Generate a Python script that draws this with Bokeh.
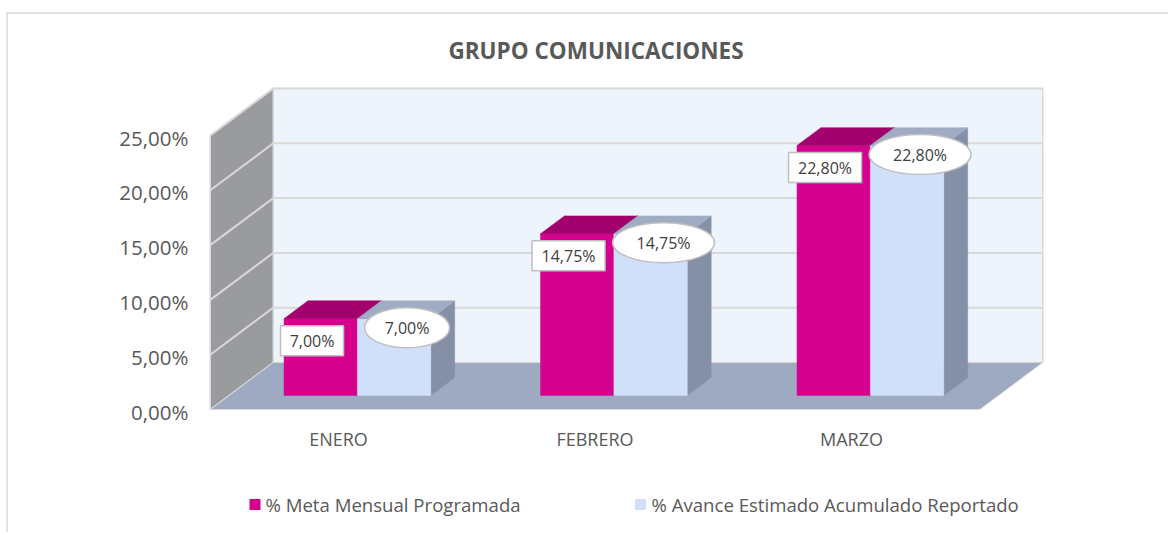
from bokeh.plotting import figure
from bokeh.models import Range1d, ColumnDataSource
from bokeh.core.properties import value
from bokeh.embed import file_html
from bokeh.resources import INLINE

# ---------------- data ----------------
categories = ["ENERO", "FEBRERO", "MARZO"]
meta = [7.00, 14.75, 22.80]
avance = [7.00, 14.75, 22.80]
series_names = ["% Meta Mensual Programada", "% Avance Estimado Acumulado Reportado"]
y_ticks = [0, 5, 10, 15, 20, 25]
y_tick_labels = ["0,00%", "5,00%", "10,00%", "15,00%", "20,00%", "25,00%"]
title_text = "GRUPO COMUNICACIONES"

# ---------------- styling / geometry ----------------
FONT = value("Open Sans")
TXT = "#595959"
C_META, C_META_TOP = "#D6008F", "#A2006C"
C_AV, C_AV_TOP, C_AV_SIDE = "#D1E0FA", "#A0ACC4", "#8590A7"
C_FLOOR, C_BACK, C_LEFT = "#9EAAC2", "#EEF4FB", "#999B9F"
C_GRID = "#D9D9D9"

W_PX, H_PX = 1168, 532
ORG = 0.0                         # canvas origin on the page
PX_X = 256.5        # pixels per category unit
PX_Y = 10.96        # pixels per percent
X0_PAGE, Y0_PAGE = 338.0, 409.0   # page position of (category 0, 0 %)

def dx(px):
    return px / PX_X

def dy(px):
    return px / PX_Y

def page_x(px):
    return (px - X0_PAGE) / PX_X

def page_y(py):
    return (Y0_PAGE - py) / PX_Y

DX, DY = dx(63), dy(47)          # depth of the 3D box
F0, F1 = 0.30, 0.68               # bar depth (fractions)
BW = 0.286                        # bar width, category units

p = figure(width=W_PX, height=H_PX,
           x_range=Range1d(page_x(ORG), page_x(ORG + W_PX)),
           y_range=Range1d(page_y(ORG + H_PX), page_y(ORG)),
           x_axis_location=None, y_axis_location=None,
           toolbar_location=None, output_backend="svg", min_border=0)
p.outline_line_color = None
p.background_fill_color = "white"
p.border_fill_color = "white"
p.xgrid.visible = False
p.ygrid.visible = False
p.grid.visible = False

# chart border (top / left)
p.line([page_x(6.5), page_x(6.5), page_x(1172)], [page_y(540), page_y(12.5), page_y(12.5)],
       line_color=C_GRID, line_width=1.5)

x0, x1 = -0.5, len(categories) - 0.5
ymax = y_ticks[-1]

# back wall
p.patch([x0 + DX, x1 + DX, x1 + DX, x0 + DX], [DY, DY, ymax + DY, ymax + DY],
        fill_color=C_BACK, line_color=C_GRID, line_width=1.5)
grid_v = [t for t in y_ticks if t > 0]
p.multi_line([[x0 + DX, x1 + DX] for _ in grid_v], [[t + DY, t + DY] for t in grid_v],
             line_color=C_GRID, line_width=2)
# left wall
p.patch([x0, x0 + DX, x0 + DX, x0], [0, DY, ymax + DY, ymax],
        fill_color=C_LEFT, line_color=C_GRID, line_width=1.5)
p.multi_line([[x0, x0 + DX] for _ in grid_v], [[t, t + DY] for t in grid_v],
             line_color=C_GRID, line_width=2)
# floor
p.patch([x0, x1, x1 + DX, x0 + DX], [0, 0, DY, DY],
        fill_color=C_FLOOR, line_color=C_GRID, line_width=1)

# bars
bdx, bdy = (F1 - F0) * DX, (F1 - F0) * DY
yb = F0 * DY
for s, (vals, cf, ct, cs) in enumerate([(meta, C_META, C_META_TOP, C_META_TOP),
                                         (avance, C_AV, C_AV_TOP, C_AV_SIDE)]):
    fx, fy, tx, ty, sx, sy = [], [], [], [], [], []
    for i, v in enumerate(vals):
        xl = i - BW + s * BW + F0 * DX
        xr = xl + BW
        yt = yb + v
        fx.append([xl, xr, xr, xl]); fy.append([yb, yb, yt, yt])
        tx.append([xl, xr, xr + bdx, xl + bdx]); ty.append([yt, yt, yt + bdy, yt + bdy])
        sx.append([xr, xr + bdx, xr + bdx, xr]); sy.append([yb, yb + bdy, yt + bdy, yt])
    p.patches(sx, sy, fill_color=cs, line_color=cs, line_width=0.5)
    p.patches(fx, fy, fill_color=cf, line_color=cf, line_width=0.5)
    p.patches(tx, ty, fill_color=ct, line_color=ct, line_width=0.5)

def fmt(v):
    return f"{v:.2f}".replace(".", ",") + "%"

# data labels: meta (boxes)
mx = [i - BW + F0 * DX + dx(28) for i in range(len(meta))]
my = [yb + v - dy(22) for v in meta]
mt = [fmt(v) for v in meta]
mw = [10 * len(t) + 13 for t in mt]
src_m = ColumnDataSource(dict(x=mx, y=my, t=mt, w=mw))
p.rect("x", "y", width="w", height=30, width_units="screen", height_units="screen",
       fill_color="white", line_color="#BFBFBF", line_width=1.5, source=src_m)
p.text("x", "y", text="t", text_align="center", text_baseline="middle",
       text_font=FONT, text_font_size="16px", text_color="#404040", source=src_m)

# data labels: avance (ellipses)
ax = [i + BW / 2 + F0 * DX + dx(13) for i in range(len(avance))]
ay = [yb + v - dy(9) for v in avance]
at = [fmt(v) for v in avance]
aw = [17 * len(t) for t in at]
src_a = ColumnDataSource(dict(x=ax, y=ay, t=at, w=aw))
p.ellipse("x", "y", width="w", height=40, width_units="screen", height_units="screen",
          fill_color="white", line_color="#BFBFBF", line_width=1.5, source=src_a)
p.text("x", "y", text="t", text_align="center", text_baseline="middle",
       text_font=FONT, text_font_size="16px", text_color="#404040", source=src_a)

# y tick labels
p.text([page_x(188)] * len(y_ticks), y_ticks, text=y_tick_labels, y_offset=2,
       text_align="right", text_baseline="middle",
       text_font=FONT, text_font_size="20.5px", text_color=TXT)

# category labels
p.text(list(range(len(categories))), [0] * len(categories), text=categories, y_offset=29,
       text_align="center", text_baseline="middle",
       text_font=FONT, text_font_size="18px", text_color=TXT)

# title
p.text([page_x(595.5)], [page_y(50)], text=[title_text], text_align="center",
       text_baseline="middle", text_font=FONT, text_font_size="22.5px",
       text_font_style="bold", text_color=TXT)

# legend
leg_sq_x = [page_x(254.5), page_x(640)]
leg_y = page_y(504)
p.rect(leg_sq_x, [leg_y, leg_y], width=11, height=11, width_units="screen",
       height_units="screen", fill_color=[C_META, C_AV], line_color=None)
p.text([page_x(265), page_x(651)], [leg_y, leg_y], text=series_names,
       text_align="left", text_baseline="middle",
       text_font=FONT, text_font_size="18.6px", text_color=TXT)

open("out.html", "w").write(file_html(p, INLINE))
